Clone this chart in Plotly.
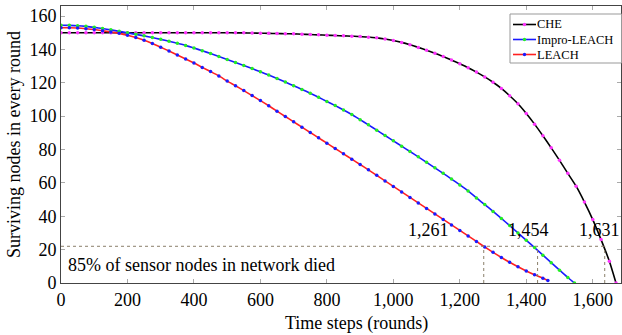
import plotly.graph_objects as go

# ---- data ----
che_rounds = list(range(0, 1651, 25)) + [1670]
che_nodes = [150.0, 150.0, 150.0, 150.0, 150.0, 150.0, 150.0, 150.0, 150.0, 150.0,
             150.0, 150.0, 150.0, 150.0, 150.0, 150.0, 150.0, 150.0, 150.0, 150.0,
             150.0, 149.9, 149.9, 149.8, 149.7, 149.6, 149.5, 149.4, 149.3, 149.1,
             148.9, 148.7, 148.5, 148.3, 148.1, 147.9, 147.7, 147.3, 146.9, 146.2,
             145.3, 144.2, 142.8, 141.2, 139.5, 137.7, 135.8, 133.7, 131.4, 129.0,
             126.4, 123.5, 120.3, 116.6, 112.2, 107.4, 101.6, 95.2, 88.2, 81.0,
             73.5, 65.7, 58.0, 48.5, 38.0, 26.0, 13.0, 0.0]

impro_rounds = list(range(0, 1526, 25)) + [1545]
impro_nodes = [154.5, 154.4, 154.2, 153.8, 153.2, 152.5, 151.7, 150.8, 149.9, 149.0,
               148.1, 147.1, 146.0, 144.9, 143.7, 142.4, 140.8, 139.2, 137.5, 135.7,
               133.9, 132.1, 130.3, 128.5, 126.6, 124.6, 122.5, 120.4, 118.2, 116.0,
               113.7, 111.3, 108.8, 106.3, 103.7, 101.0, 97.9, 94.8, 91.6, 88.4,
               85.2, 82.0, 78.8, 75.6, 72.3, 69.0, 65.7, 62.3, 58.8, 55.2,
               51.0, 47.0, 42.9, 38.7, 34.4, 30.0, 25.6, 21.2, 16.7, 12.2,
               7.7, 3.3, 0.0]

leach_rounds = list(range(0, 1451, 25)) + [1465]
leach_nodes = [153.0, 153.0, 152.8, 152.4, 151.9, 151.2, 150.4, 149.6, 148.5, 147.1,
               145.5, 143.5, 141.3, 139.0, 136.6, 134.2, 131.8, 129.2, 126.7, 124.1,
               121.0, 118.2, 115.3, 112.3, 109.3, 106.2, 103.0, 99.8, 96.6, 93.4,
               90.2, 87.0, 83.8, 80.6, 77.4, 74.2, 71.0, 67.8, 64.5, 61.2,
               57.9, 54.6, 51.3, 48.0, 44.7, 41.4, 38.1, 34.8, 31.5, 28.2,
               24.9, 21.6, 18.4, 15.3, 12.4, 9.7, 7.2, 4.9, 2.9, 1.5]

series_names = ["CHE", "Impro-LEACH", "LEACH"]
line_colors = ["black", "#1a1aff", "#ff2020"]
marker_colors = ["#ff33ff", "#22ee22", "#1a1aff"]

threshold = 22
death_rounds = [1272, 1434, 1636]
death_labels = ["1,261", "1,454", "1,631"]
label_x = [1107, 1407, 1620]
label_y = 32

x_ticks = [0, 200, 400, 600, 800, 1000, 1200, 1400, 1600]
y_ticks = [0, 20, 40, 60, 80, 100, 120, 140, 160]

FONT = "Times New Roman, Liberation Serif, serif"

W, H = 622, 335
ML, MR, MT, MB = 61, 1, 6, 52
PW, PH = W - ML - MR, H - MT - MB


def px(xp):
    return (xp - ML) / PW


def py(yp):
    return (H - MB - yp) / PH


fig = go.Figure()
for xs, ys, nm, lc, mc in zip([che_rounds, impro_rounds, leach_rounds],
                              [che_nodes, impro_nodes, leach_nodes],
                              series_names, line_colors, marker_colors):
    fig.add_trace(go.Scatter(x=xs, y=ys, name=nm, mode="lines+markers", showlegend=False,
                             line=dict(color=lc, width=1.6, shape="spline", smoothing=0.6),
                             marker=dict(color=mc, size=3.5)))

dash_col = "#8a7f6a"
fig.add_trace(go.Scatter(x=[0, death_rounds[-1]], y=[threshold, threshold], mode="lines",
                         line=dict(color=dash_col, width=1, dash="dot"),
                         showlegend=False, hoverinfo="skip"))
for dx in death_rounds:
    fig.add_trace(go.Scatter(x=[dx, dx], y=[0, threshold], mode="lines",
                             line=dict(color=dash_col, width=1, dash="dot"),
                             showlegend=False, hoverinfo="skip"))

for lx, lt in zip(label_x, death_labels):
    fig.add_annotation(x=lx, y=label_y, text=lt, showarrow=False,
                       font=dict(family=FONT, size=18, color="black"))

fig.add_annotation(x=15, y=11, text="85% of sensor nodes in network died", showarrow=False,
                   xanchor="left", font=dict(family=FONT, size=18, color="black"))

# x-axis title (slightly right of centre, as in the reference)
fig.add_annotation(xref="paper", yref="paper", x=px(356), y=py(323), text="Time steps (rounds)",
                   showarrow=False, xanchor="center", yanchor="middle",
                   font=dict(family=FONT, size=18, color="black"))

# compact legend
shapes = [dict(type="rect", xref="paper", yref="paper", x0=px(510), x1=px(621.5),
               y0=py(63), y1=py(14), line=dict(color="#999", width=1), fillcolor="white",
               layer="above")]
row_y = [24.5, 39.5, 54.5]
for ry, nm, lc, mc in zip(row_y, series_names, line_colors, marker_colors):
    shapes.append(dict(type="line", xref="paper", yref="paper", x0=px(513), x1=px(536),
                       y0=py(ry), y1=py(ry), line=dict(color=lc, width=1.6), layer="above"))
    shapes.append(dict(type="circle", xref="paper", yref="paper", x0=px(522.8), x1=px(526.2),
                       y0=py(ry + 1.7), y1=py(ry - 1.7), line=dict(width=0), fillcolor=mc,
                       layer="above"))
    fig.add_annotation(xref="paper", yref="paper", x=px(536), y=py(ry), text=nm,
                       showarrow=False, xanchor="left", yanchor="middle",
                       borderpad=0,
                       font=dict(family=FONT, size=12.5, color="black"))

fig.update_layout(
    width=W, height=H,
    margin=dict(l=ML, r=MR, t=MT, b=MB),
    paper_bgcolor="white", plot_bgcolor="white",
    font=dict(family=FONT, size=18, color="black"),
    showlegend=False,
    shapes=shapes,
    xaxis=dict(range=[0, 1685], tickvals=x_ticks, tickformat=",d",
               showgrid=False, zeroline=False, showline=True, linecolor="#444",
               mirror="ticks", ticks="inside", ticklen=4, tickcolor="#aaa",
               tickfont=dict(family=FONT, size=18)),
    yaxis=dict(range=[0, 166], tickvals=y_ticks,
               showgrid=False, zeroline=False, showline=True, linecolor="#444",
               mirror="ticks", ticks="inside", ticklen=4, tickcolor="#aaa",
               tickfont=dict(family=FONT, size=18),
               title=dict(text="Surviving nodes in every round", standoff=4,
                          font=dict(family=FONT, size=18))),
)

fig.write_html("out.html")
